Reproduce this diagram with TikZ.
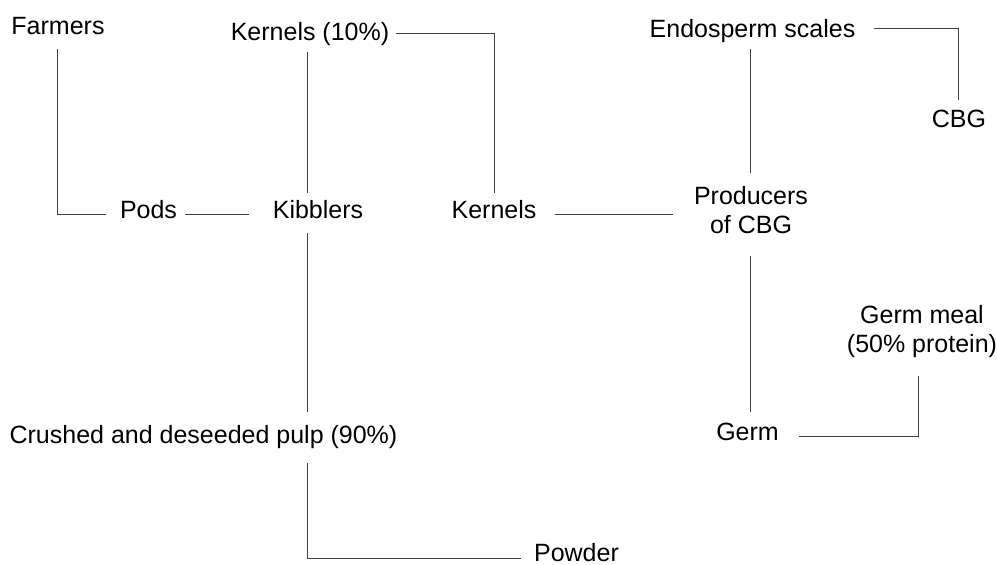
\documentclass[tikz,border=0pt]{standalone}
\usepackage{fontspec}
\setmainfont{Liberation Sans}
\begin{document}
\begin{tikzpicture}[x=1pt,y=-1pt,
  lbl/.style={font=\fontsize{25}{29}\selectfont, inner sep=0pt, text height=18pt, text depth=5pt, anchor=base},
  mlbl/.style={font=\fontsize{25}{29}\selectfont, inner sep=0pt, align=center, anchor=north},
  link/.style={draw=black!75, line width=0.8pt}]
\useasboundingbox (0,0) rectangle (997,565);
% labels
\node[lbl] (farmers) at (58,34) {Farmers};
\node[lbl] (k10) at (310,40) {Kernels (10\%)};
\node[lbl] (endo) at (752.5,37) {Endosperm scales};
\node[lbl] (cbg) at (959,127) {CBG};
\node[lbl] (pods) at (148.5,218) {Pods};
\node[lbl] (kibblers) at (318,218) {Kibblers};
\node[lbl] (kernels) at (494,218) {Kernels};
\node[mlbl] (producers) at (751,186) {Producers\\of CBG};
\node[lbl] (pulp) at (203.5,443) {Crushed and deseeded pulp (90\%)};
\node[lbl] (germ) at (747.5,440) {Germ};
\node[mlbl] (meal) at (922,305) {Germ meal\\(50\% protein)};
\node[lbl, text depth=1pt] (powder) at (576.5,561.5) {Powder};
% connector ends
\coordinate (fa) at ([xshift=-1pt,yshift=-10pt]farmers.south);
\coordinate (pw) at ([xshift=-14pt,yshift=-2.5pt]pods.west);
\coordinate (pe) at ([xshift=8pt,yshift=-2.5pt]pods.east);
\coordinate (kw) at ([xshift=-24pt]kibblers.west);
\coordinate (k10s) at ([xshift=-3pt,yshift=-7pt]k10.south);
\coordinate (kbn) at ([yshift=7pt]kibblers.north);
\coordinate (kbs) at ([xshift=-11pt,yshift=-10pt]kibblers.south);
\coordinate (pn) at ([yshift=13pt]pulp.north);
\coordinate (ps) at ([xshift=103.5pt,yshift=-15pt]pulp.south);
\coordinate (pwd) at ([xshift=-13pt,yshift=-5pt]powder.west);
\coordinate (k10e) at ([xshift=7pt]k10.east);
\coordinate (kn) at ([yshift=7pt]kernels.north);
\coordinate (ke) at ([xshift=18pt,yshift=-2.5pt]kernels.east);
\coordinate (prw) at ([xshift=-21pt]producers.west);
\coordinate (es) at ([xshift=-2.5pt,yshift=-7pt]endo.south);
\coordinate (prn) at ([yshift=13pt]producers.north);
\coordinate (ee) at ([xshift=18pt,yshift=2.5pt]endo.east);
\coordinate (cn) at ([xshift=-1pt,yshift=9pt]cbg.north);
\coordinate (prs) at ([xshift=-1pt,yshift=-22pt]producers.south);
\coordinate (gn) at ([yshift=10pt]germ.north);
\coordinate (ge) at ([xshift=20pt,yshift=-2.5pt]germ.east);
\coordinate (ms) at ([xshift=-4pt,yshift=-18pt]meal.south);
% connectors
\draw[link] (fa) |- (pw);
\draw[link] (pe) -- (pe -| kw);
\draw[link] (k10s) -- (k10s |- kbn);
\draw[link] (kbs) -- (kbs |- pn);
\draw[link] (ps) |- (pwd);
\draw[link] (k10e) -| (kn);
\draw[link] (ke) -- (ke -| prw);
\draw[link] (es) -- (es |- prn);
\draw[link] (ee) -| (cn);
\draw[link] (prs) -- (prs |- gn);
\draw[link] (ge) -| (ms);
\end{tikzpicture}
\end{document}
